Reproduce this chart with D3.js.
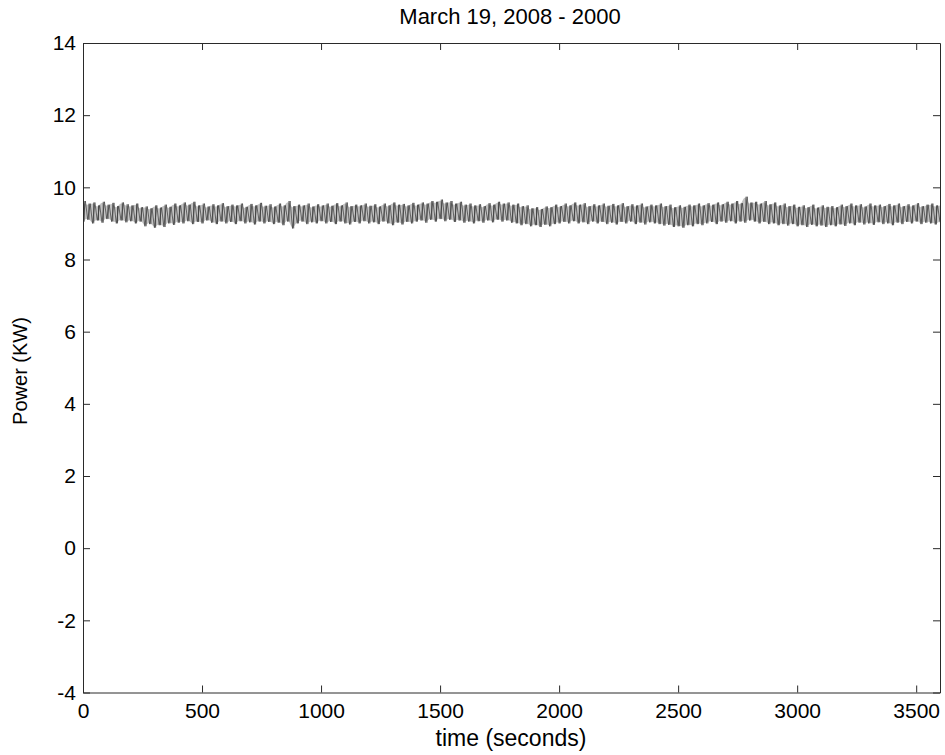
<!DOCTYPE html>
<html>
<head>
<meta charset="utf-8">
<script src="https://cdn.jsdelivr.net/npm/d3@7"></script>
<style>
  html, body { margin: 0; padding: 0; background: #fff; }
  svg { display: block; font-family: "Liberation Sans", Arial, Helvetica, sans-serif; }
</style>
</head>
<body>
<svg id="chart" width="945" height="755"></svg>
<script>
// ---- data ----
const titleText = "March 19, 2008 - 2000";
const xLabelText = "time (seconds)";
const yLabelText = "Power (KW)";
const xTicks = [0, 500, 1000, 1500, 2000, 2500, 3000, 3500];
const yTicks = [-4, -2, 0, 2, 4, 6, 8, 10, 12, 14];
const xDomain = [0, 3600];
const yDomain = [-4, 14];
const sampleStep = 20; // seconds between envelope samples

// upper swing of the power trace, every 20 s from 0 to 3600
const peakHigh = [
  9.62,9.55,9.58,9.50,9.60,9.52,9.57,9.48,9.58,9.53,9.50,
  9.55,9.45,9.47,9.42,9.50,9.44,9.52,9.46,9.55,9.50,
  9.58,9.52,9.60,9.50,9.55,9.47,9.53,9.50,9.56,9.48,
  9.52,9.50,9.55,9.46,9.54,9.50,9.57,9.49,9.53,9.47,
  9.55,9.50,9.62,9.48,9.52,9.50,9.55,9.47,9.53,9.50,
  9.55,9.49,9.56,9.50,9.58,9.48,9.52,9.50,9.55,9.49,
  9.53,9.47,9.55,9.50,9.58,9.52,9.54,9.50,9.57,9.52,
  9.58,9.55,9.62,9.60,9.66,9.58,9.62,9.55,9.60,9.52,
  9.55,9.50,9.53,9.48,9.56,9.52,9.60,9.55,9.58,9.52,
  9.55,9.48,9.50,9.42,9.45,9.40,9.47,9.45,9.52,9.48,
  9.55,9.50,9.58,9.52,9.56,9.48,9.53,9.50,9.55,9.49,
  9.54,9.50,9.56,9.48,9.53,9.50,9.55,9.47,9.52,9.50,
  9.55,9.48,9.52,9.45,9.50,9.46,9.52,9.50,9.55,9.50,
  9.56,9.52,9.58,9.53,9.60,9.55,9.62,9.56,9.74,9.58,
  9.60,9.55,9.62,9.53,9.58,9.50,9.55,9.48,9.52,9.46,
  9.50,9.45,9.52,9.44,9.50,9.46,9.48,9.45,9.52,9.48,
  9.55,9.50,9.53,9.47,9.55,9.50,9.52,9.48,9.54,9.50,
  9.55,9.48,9.53,9.50,9.56,9.48,9.52,9.55,9.50,9.53
];
// lower swing of the power trace, every 20 s (offset 10 s) from 0 to 3600
const peakLow = [
  9.05,9.10,9.00,9.08,9.02,9.12,9.05,9.00,9.08,9.03,9.06,
  9.00,9.05,8.92,8.98,8.88,8.95,8.90,9.00,8.96,9.02,
  9.00,9.06,8.98,9.04,9.00,9.08,9.02,8.98,9.05,9.00,
  9.04,8.98,9.06,9.00,9.03,8.97,9.05,9.00,9.04,8.98,
  9.02,8.95,9.05,8.86,9.00,9.05,8.98,9.03,9.00,9.06,
  9.00,9.04,8.98,9.05,9.00,8.97,9.04,9.00,9.06,9.00,
  9.03,8.98,9.05,9.00,8.95,9.02,8.97,9.04,9.00,9.05,
  9.08,9.02,9.10,9.05,9.12,9.06,9.10,9.04,9.08,9.02,
  9.05,9.00,9.06,9.02,9.08,9.03,9.10,9.05,9.08,9.02,
  9.00,8.95,8.98,8.92,8.95,8.90,8.96,8.92,8.98,9.00,
  9.04,9.00,9.06,9.00,9.03,8.98,9.05,9.00,9.04,8.98,
  9.02,8.97,9.04,9.00,9.05,8.98,9.02,8.97,9.03,9.00,
  8.98,8.94,8.96,8.90,8.92,8.88,8.95,8.92,8.98,8.95,
  9.00,9.04,8.98,9.05,9.02,9.06,9.00,9.05,9.02,9.08,
  9.05,9.00,9.04,8.98,9.00,8.95,8.98,8.94,8.98,8.92,
  8.95,8.90,8.96,8.92,8.94,8.90,8.95,8.92,8.97,8.93,
  9.00,8.95,9.02,8.97,9.00,8.96,9.03,8.98,9.00,8.95,
  9.02,8.98,9.04,9.00,9.05,8.98,9.02,9.00,8.97,9.03
];

// ---- layout ----
const svg = d3.select("#chart");
const plot = { left: 83, top: 43, right: 940, bottom: 692.5 };
const fontFamily = '"Liberation Sans", Arial, sans-serif';

const x = d3.scaleLinear().domain(xDomain).range([plot.left, plot.right]);
const y = d3.scaleLinear().domain(yDomain).range([plot.bottom, plot.top]);

// samples joined with time
const samples = peakHigh.map((h, i) => ({ t: i * sampleStep, hi: h, lo: peakLow[i] }))
  .filter(d => d.t <= xDomain[1]);

// trace points: alternating low/high swings
const trace = [];
samples.forEach(d => {
  trace.push([d.t, d.lo]);
  if (d.t + sampleStep / 2 <= xDomain[1]) trace.push([d.t + sampleStep / 2, d.hi]);
});

svg.append("clipPath").attr("id", "clip")
  .append("rect")
  .attr("x", plot.left).attr("y", plot.top)
  .attr("width", plot.right - plot.left).attr("height", plot.bottom - plot.top);

const plotG = svg.append("g").attr("clip-path", "url(#clip)");

// dense-trace shading between swings
plotG.append("path")
  .datum(samples)
  .attr("fill", "#a8a8a8")
  .attr("fill-opacity", 0.7)
  .attr("d", d3.area().curve(d3.curveMonotoneX)
    .x(d => x(d.t)).y0(d => y(d.lo + 0.03)).y1(d => y(d.hi - 0.03)));

// vertical swing strokes
plotG.append("g").selectAll("line")
  .data(samples)
  .join("line")
  .attr("x1", d => x(d.t) + 1.2).attr("x2", d => x(d.t) + 1.2)
  .attr("y1", d => y(d.lo)).attr("y2", d => y(d.hi))
  .attr("stroke", "#2e2e2e").attr("stroke-width", 0.8);

plotG.append("path")
  .datum(trace)
  .attr("fill", "none")
  .attr("stroke", "#3a3a3a")
  .attr("stroke-width", 0.7)
  .attr("d", d3.line().x(d => x(d[0])).y(d => y(d[1])));

// ---- axes (MATLAB style: inward ticks on all four sides) ----
const tickLen = 7;
const axisColor = "#2a2a2a";
const fontSize = 21;
const fmt = d => String(d); // plain hyphen-minus like the original

const gB = svg.append("g").attr("transform", `translate(0,${plot.bottom})`)
  .call(d3.axisBottom(x).tickValues(xTicks).tickFormat(fmt).tickSizeInner(-tickLen).tickSizeOuter(0).tickPadding(11));
const gT = svg.append("g").attr("transform", `translate(0,${plot.top})`)
  .call(d3.axisTop(x).tickValues(xTicks).tickSizeInner(-tickLen).tickSizeOuter(0).tickFormat(""));
const gL = svg.append("g").attr("transform", `translate(${plot.left},0)`)
  .call(d3.axisLeft(y).tickValues(yTicks).tickFormat(fmt).tickSizeInner(-tickLen).tickSizeOuter(0).tickPadding(7));
const gR = svg.append("g").attr("transform", `translate(${plot.right},0)`)
  .call(d3.axisRight(y).tickValues(yTicks).tickSizeInner(-tickLen).tickSizeOuter(0).tickFormat(""));

[gB, gT, gL, gR].forEach(g => {
  g.attr("font-size", fontSize).attr("font-family", fontFamily);
  g.select(".domain").attr("stroke", axisColor).attr("stroke-width", 1);
  g.selectAll(".tick line").attr("stroke", axisColor).attr("stroke-width", 1);
  g.selectAll(".tick text").attr("fill", "#000");
});

// ---- labels ----
svg.append("text")
  .attr("x", 510).attr("y", 24)
  .attr("text-anchor", "middle")
  .attr("font-family", fontFamily).attr("font-size", 22).attr("fill", "#000")
  .text(titleText);

svg.append("text")
  .attr("x", 511).attr("y", 746)
  .attr("text-anchor", "middle")
  .attr("font-family", fontFamily).attr("font-size", 23).attr("fill", "#000")
  .text(xLabelText);

svg.append("text")
  .attr("transform", `translate(27,371) rotate(-90)`)
  .attr("text-anchor", "middle")
  .attr("font-family", fontFamily).attr("font-size", 20).attr("fill", "#000")
  .text(yLabelText);
</script>
</body>
</html>
